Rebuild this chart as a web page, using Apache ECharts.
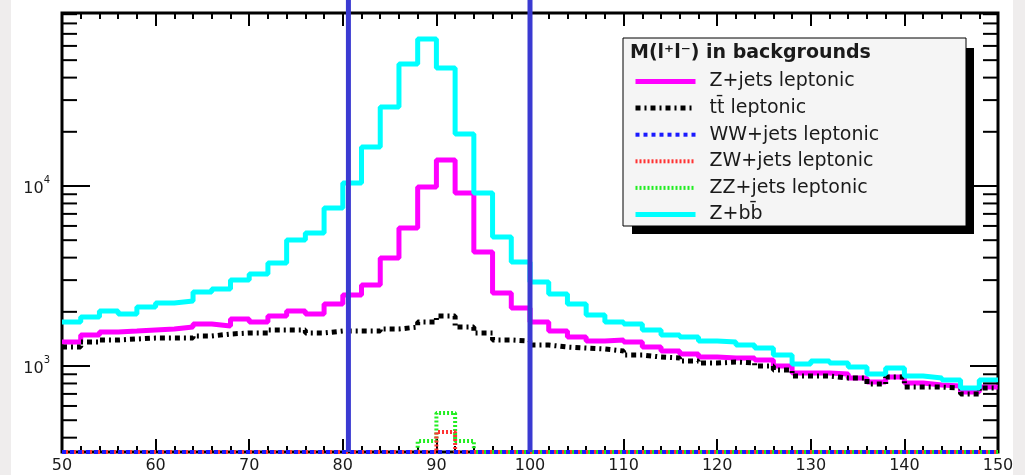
<!DOCTYPE html>
<html lang="en">
<head>
<meta charset="UTF-8">
<title>M(l+l-) in backgrounds</title>
<script src="https://cdn.jsdelivr.net/npm/echarts@6/dist/echarts.min.js"></script>
<style>
  body { margin: 0; padding: 0; background: #fff; }
</style>
</head>
<body>
<div id="chart" style="width: 1025px; height: 475px;"></div>
<script>
// binning: 50 bins of 2 GeV from 50 to 150
var X_MIN = 50, X_MAX = 150, BIN_W = 2;
var Y_MIN = 333, Y_MAX = 91400;

// minor + major ticks of the log axis
var Y_TICKS = [400, 500, 600, 700, 800, 900, 1000, 2000, 3000, 4000, 5000, 6000, 7000, 8000, 9000,
  10000, 20000, 30000, 40000, 50000, 60000, 70000, 80000, 90000];

// mass window cuts
var CUT_LINES = [80.6, 100];

var LEGEND_NAMES = ['Z+jets leptonic', 'tt\u0304 leptonic', 'WW+jets leptonic', 'ZW+jets leptonic', 'ZZ+jets leptonic', 'Z+bb\u0304'];

// bin contents
var zjets = [1359, 1487, 1545, 1564, 1585, 1606, 1647, 1711, 1668, 1824,
  1756, 1896, 2021, 1945, 2211, 2480, 2818, 3981, 5843, 9873,
  13950, 9145, 4299, 2544, 2100, 1756, 1564, 1449, 1377, 1395,
  1359, 1275, 1212, 1166, 1122, 1108, 1108, 1080, 1000, 914,
  914, 903, 858, 815, 869, 804, 784, 774, 717, 764];

var ttbar = [1275, 1359, 1395, 1413, 1430, 1430, 1430, 1468, 1506, 1526,
  1526, 1585, 1585, 1526, 1564, 1564, 1564, 1606, 1647, 1756,
  1896, 1647, 1526, 1395, 1377, 1308, 1275, 1259, 1243, 1212,
  1151, 1122, 1108, 1066, 1039, 1052, 1039, 1000, 950, 880,
  880, 858, 858, 794, 869, 764, 764, 755, 699, 755];

var wwjets = [0, 0, 0, 0, 0, 0, 0, 0, 0, 0,
  0, 0, 0, 0, 0, 0, 0, 0, 0, 0,
  0, 0, 0, 0, 0, 0, 0, 0, 0, 0,
  0, 0, 0, 0, 0, 0, 0, 0, 0, 0,
  0, 0, 0, 0, 0, 0, 0, 0, 0, 0];

var zwjets = [0, 0, 0, 0, 0, 0, 0, 0, 0, 0,
  0, 0, 0, 0, 0, 0, 0, 0, 0, 0,
  430, 0, 0, 0, 0, 0, 0, 0, 0, 0,
  0, 0, 0, 0, 0, 0, 0, 0, 0, 0,
  0, 0, 0, 0, 0, 0, 0, 0, 0, 0];

var zzjets = [0, 0, 0, 0, 0, 0, 0, 0, 0, 0,
  0, 0, 0, 0, 0, 0, 0, 0, 0, 383,
  548, 383, 0, 0, 0, 0, 0, 0, 0, 0,
  0, 0, 0, 0, 0, 0, 0, 0, 0, 0,
  0, 0, 0, 0, 0, 0, 0, 0, 0, 0];

var zbb = [1756, 1872, 2021, 1945, 2127, 2239, 2297, 2577, 2678, 3005,
  3245, 3735, 5012, 5482, 7547, 10390, 16470, 27470, 47630, 65550,
  45240, 19450, 9145, 5207, 3783, 2929, 2512, 2211, 1920, 1756,
  1711, 1585, 1487, 1449, 1377, 1359, 1308, 1259, 1151, 1026,
  1066, 1039, 987, 903, 975, 880, 858, 836, 755, 836];

// histogram -> step points (left bin edges + closing edge); empty bins sit on the frame like ROOT
function steps(vals) {
  var pts = vals.map(function (v, i) { return [X_MIN + i * BIN_W, Math.max(v, Y_MIN)]; });
  pts.push([X_MAX, Math.max(vals[vals.length - 1], Y_MIN)]);
  return pts;
}

function histSeries(name, vals, color, width, type, z) {
  return {
    name: name, type: 'line', step: 'end', symbol: 'none', z: z,
    data: steps(vals),
    itemStyle: { color: color },
    lineStyle: { color: color, width: width, type: type, cap: 'butt' }
  };
}

var chart = echarts.init(document.getElementById('chart'));

var xTick = { inside: true, length: 13, lineStyle: { color: '#000', width: 2 } };
var xMinor = { show: true, splitNumber: 5, length: 6, lineStyle: { color: '#000', width: 2 } };

var option = {
  animation: false,
  backgroundColor: '#fff',
  grid: { left: 62, right: 27, top: 13, bottom: 23, show: true, borderColor: '#000', borderWidth: 3 },
  xAxis: [
    {
      type: 'value', min: X_MIN, max: X_MAX, interval: 10,
      axisLine: { show: false }, splitLine: { show: false },
      axisTick: xTick, minorTick: xMinor,
      axisLabel: { margin: 6, fontFamily: 'DejaVu Sans', fontSize: 16, color: '#1a1a1a' }
    },
    {
      type: 'value', position: 'top', min: X_MIN, max: X_MAX, interval: 10,
      axisLine: { show: false }, splitLine: { show: false },
      axisTick: xTick, minorTick: xMinor,
      axisLabel: { show: false }
    }
  ],
  yAxis: {
    type: 'log', logBase: 10, min: Y_MIN, max: Y_MAX,
    axisLine: { show: false }, axisTick: { show: false }, splitLine: { show: false },
    axisLabel: {
      margin: 12,
      formatter: function (v) {
        var e = Math.log10(v);
        if (Math.abs(e - Math.round(e)) > 1e-6) return '';
        return '{b|10}{s|' + Math.round(e) + '}';
      },
      rich: {
        b: { fontFamily: 'DejaVu Sans', fontSize: 16, color: '#1a1a1a', lineHeight: 22, verticalAlign: 'bottom' },
        s: { fontFamily: 'DejaVu Sans', fontSize: 10, color: '#1a1a1a', lineHeight: 10, verticalAlign: 'top' }
      }
    }
  },
  legend: {
    orient: 'vertical', left: 623, top: 38, padding: [34, 10, 4, 10],
    itemWidth: 60, itemHeight: 20, itemGap: 7.6,
    selectedMode: false, z: 10,
    data: LEGEND_NAMES,
    itemStyle: { opacity: 0 },
    lineStyle: { width: 'inherit' },
    textStyle: { fontFamily: 'DejaVu Sans', fontSize: 19, color: '#1a1a1a', padding: [0, 0, 0, 9] }
  },
  graphic: [
    { type: 'rect', shape: { x: 0, y: 0, width: 11, height: 475 }, style: { fill: '#efeded' }, z: 1 },
    { type: 'rect', shape: { x: 1013, y: 0, width: 12, height: 475 }, style: { fill: '#efeded' }, z: 1 },
    { type: 'rect', shape: { x: 632, y: 48, width: 342, height: 186 }, style: { fill: '#000' }, z: 8 },
    { type: 'rect', shape: { x: 623, y: 38, width: 343, height: 188 }, style: { fill: '#f5f5f5', stroke: '#000', lineWidth: 1 }, z: 8 },
    {
      type: 'text', x: 630, y: 53, z: 9,
      style: { text: 'M(l\u207Al\u207B) in backgrounds', font: 'bold 19px "DejaVu Sans"', fill: '#1a1a1a', verticalAlign: 'middle' }
    }
  ],
  series: [
    histSeries('ZZ+jets leptonic', zzjets, '#22ee22', 4, [2, 2], 2),
    histSeries('ZW+jets leptonic', zwjets, '#ff3333', 4, [2, 2], 2),
    histSeries('WW+jets leptonic', wwjets, '#1a1aff', 4, [4, 4], 2),
    histSeries('Z+jets leptonic', zjets, '#ff00ff', 5, 'solid', 3),
    histSeries('tt\u0304 leptonic', ttbar, '#000', 5, [5, 4, 2, 4], 3),
    histSeries('Z+bb\u0304', zbb, '#00ffff', 5, 'solid', 3),
    {
      type: 'custom', name: 'yticks', silent: true, clip: false, z: 5,
      data: Y_TICKS.map(function (v) { return [X_MIN, v]; }),
      renderItem: function (params, api) {
        var v = api.value(1);
        var l = api.coord([X_MIN, v]), r = api.coord([X_MAX, v]);
        var e = Math.log10(v);
        var len = Math.abs(e - Math.round(e)) < 1e-9 ? 28 : 15;
        return {
          type: 'group', children: [
            { type: 'line', shape: { x1: l[0], y1: l[1], x2: l[0] + len, y2: l[1] }, style: { stroke: '#000', lineWidth: 2 } },
            { type: 'line', shape: { x1: r[0] - len, y1: r[1], x2: r[0], y2: r[1] }, style: { stroke: '#000', lineWidth: 2 } }
          ]
        };
      }
    },
    {
      type: 'custom', name: 'cuts', silent: true, clip: false, z: 6,
      data: CUT_LINES.map(function (v) { return [v, Y_MIN]; }),
      renderItem: function (params, api) {
        var p = api.coord([api.value(0), Y_MIN]);
        return { type: 'line', shape: { x1: p[0], y1: 0, x2: p[0], y2: p[1] }, style: { stroke: '#3a3ad2', lineWidth: 5 } };
      }
    }
  ]
};

chart.setOption(option);
</script>
</body>
</html>
